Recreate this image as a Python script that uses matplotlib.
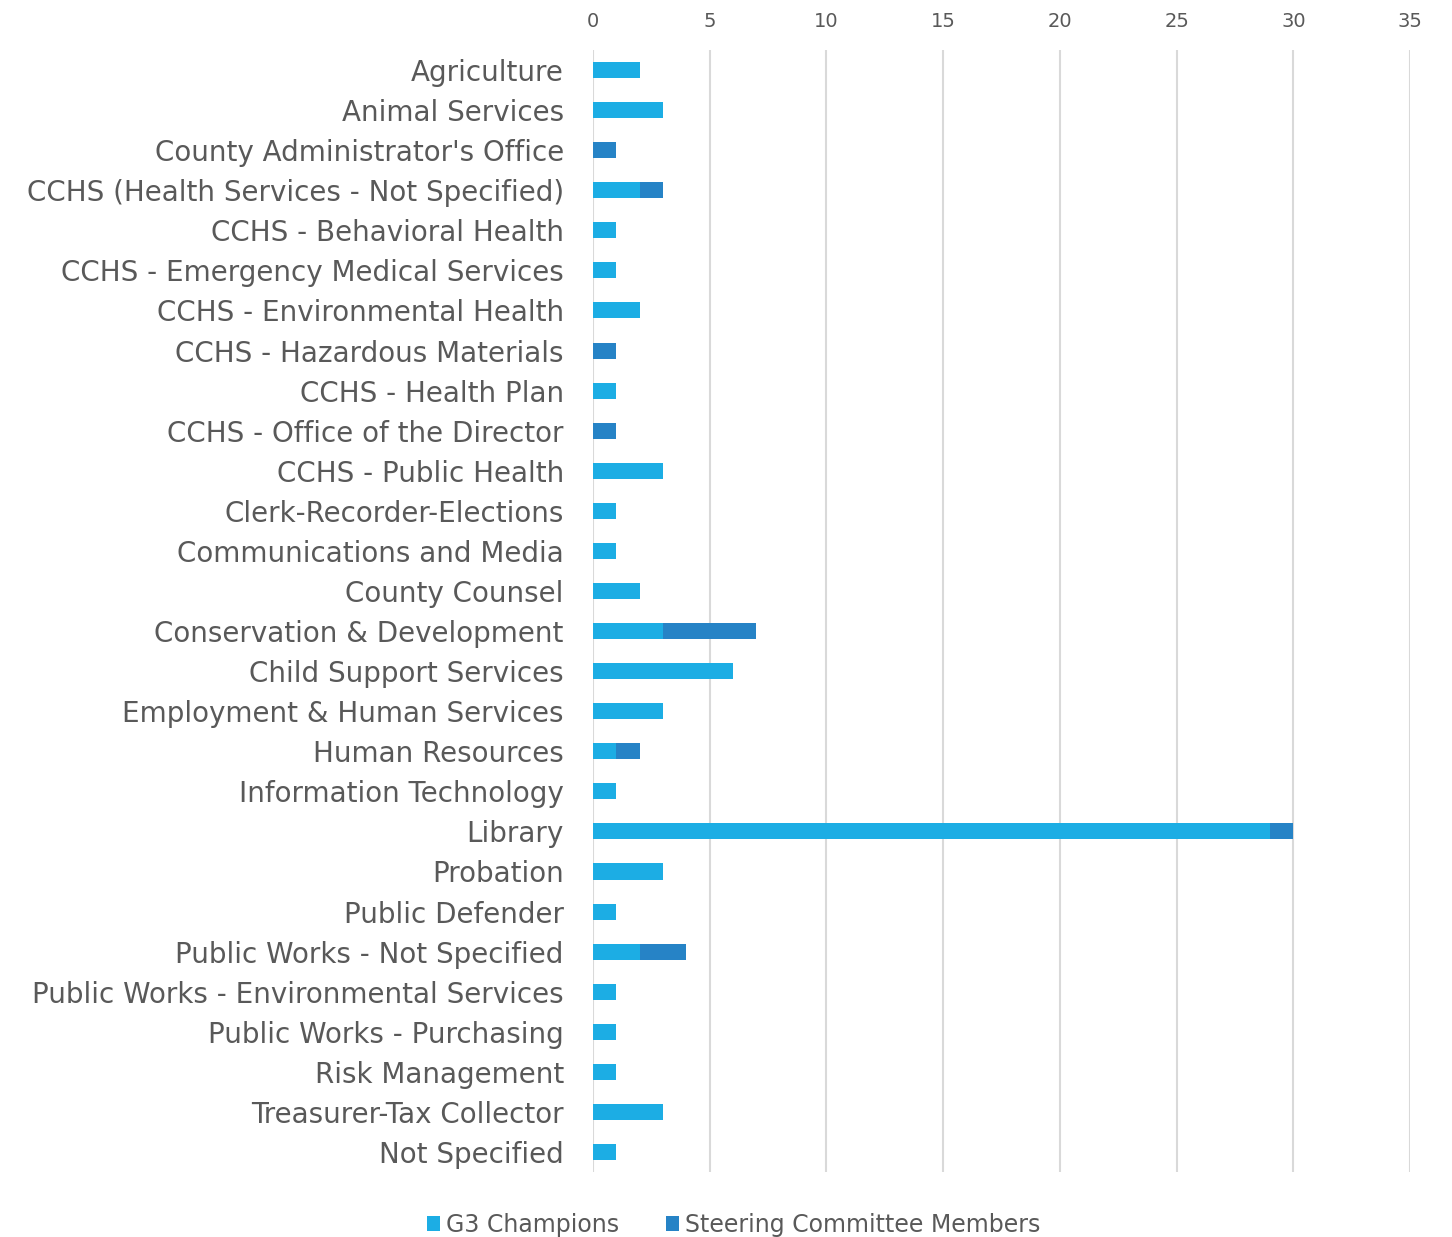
import matplotlib.pyplot as plt
import numpy as np

categories = [
    "Agriculture", "Animal Services", "County Administrator's Office",
    "CCHS (Health Services - Not Specified)", "CCHS - Behavioral Health",
    "CCHS - Emergency Medical Services", "CCHS - Environmental Health",
    "CCHS - Hazardous Materials", "CCHS - Health Plan",
    "CCHS - Office of the Director", "CCHS - Public Health",
    "Clerk-Recorder-Elections", "Communications and Media", "County Counsel",
    "Conservation & Development", "Child Support Services",
    "Employment & Human Services", "Human Resources", "Information Technology",
    "Library", "Probation", "Public Defender", "Public Works - Not Specified",
    "Public Works - Environmental Services", "Public Works - Purchasing",
    "Risk Management", "Treasurer-Tax Collector", "Not Specified",
]
g3_champions = [2, 3, 0, 2, 1, 1, 2, 0, 1, 0, 3, 1, 1, 2, 3, 6, 3, 1, 1, 29,
                3, 1, 2, 1, 1, 1, 3, 1]
steering = [0, 0, 1, 1, 0, 0, 0, 1, 0, 1, 0, 0, 0, 0, 4, 0, 0, 1, 0, 1,
            0, 0, 2, 0, 0, 0, 0, 0]
x_ticks = [0, 5, 10, 15, 20, 25, 30, 35]

fig = plt.figure(figsize=(14.52, 12.37), dpi=100)
ax = fig.add_axes([0.4084, 0.0525, 0.5627, 0.9071])

y = np.arange(len(categories))
ax.barh(y, g3_champions, height=0.4, color='#1CADE4', label='G3 Champions',
        zorder=3)
ax.barh(y, steering, left=g3_champions, height=0.4, color='#2683C6',
        label='Steering Committee Members', zorder=3)

ax.set_ylim(len(categories) - 0.5, -0.5)
ax.set_xlim(0, 35)
ax.set_xticks(x_ticks)
ax.xaxis.tick_top()
ax.tick_params(axis='x', length=0, labelsize=14, labelcolor='#595959', pad=14)
ax.set_yticks(y)
ax.set_yticklabels(categories, fontsize=20, color='#595959')
ax.tick_params(axis='y', length=0, pad=21)
ax.grid(axis='x', color='#D9D9D9', linewidth=1.5, zorder=0)
for s in ax.spines.values():
    s.set_visible(False)

ax.legend(loc='center', bbox_to_anchor=(0.172, -0.047), ncol=2, frameon=False,
          fontsize=17, labelcolor='#595959', handlelength=0.55,
          handleheight=0.55, handletextpad=0.25, columnspacing=2.0)

fig.savefig('out.png', dpi=100)
